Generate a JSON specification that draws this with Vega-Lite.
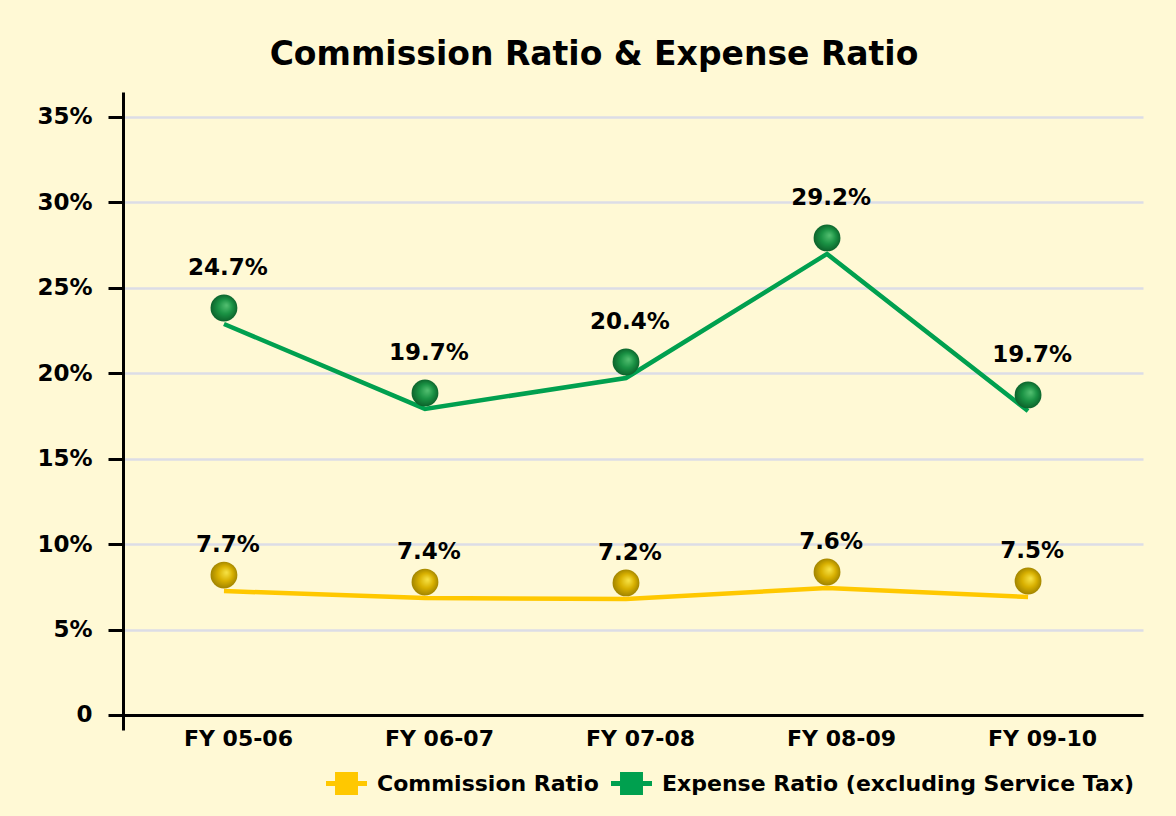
{
  "$schema": "https://vega.github.io/schema/vega-lite/v6.json",
  "width": 1020,
  "height": 638,
  "autosize": {"type": "none"},
  "padding": {"left": 123, "top": 92, "right": 33, "bottom": 86},
  "background": "#FFF9D5",
  "config": {"view": {"stroke": null}},
  "title": {"text": "Commission Ratio & Expense Ratio", "font": "DejaVu Sans", "fontSize": 33, "fontWeight": "bold", "color": "#000000", "anchor": "middle", "dx": -39, "offset": 20},
  "data": {"values": [
    {"year": "FY 05-06", "series": "Commission Ratio", "value": 8.19, "label": "7.7%"},
    {"year": "FY 06-07", "series": "Commission Ratio", "value": 7.78, "label": "7.4%"},
    {"year": "FY 07-08", "series": "Commission Ratio", "value": 7.73, "label": "7.2%"},
    {"year": "FY 08-09", "series": "Commission Ratio", "value": 8.37, "label": "7.6%"},
    {"year": "FY 09-10", "series": "Commission Ratio", "value": 7.84, "label": "7.5%"},
    {"year": "FY 05-06", "series": "Expense Ratio (excluding Service Tax)", "value": 23.82, "label": "24.7%"},
    {"year": "FY 06-07", "series": "Expense Ratio (excluding Service Tax)", "value": 18.85, "label": "19.7%"},
    {"year": "FY 07-08", "series": "Expense Ratio (excluding Service Tax)", "value": 20.66, "label": "20.4%"},
    {"year": "FY 08-09", "series": "Expense Ratio (excluding Service Tax)", "value": 27.92, "label": "29.2%"},
    {"year": "FY 09-10", "series": "Expense Ratio (excluding Service Tax)", "value": 18.73, "label": "19.7%"}
  ]},
  "encoding": {
    "x": {"field": "year", "type": "nominal", "sort": null,
      "scale": {"type": "point", "padding": 0.537},
      "axis": {"title": null, "domain": false, "ticks": false, "grid": false, "labelAngle": 0, "labelFont": "DejaVu Sans", "labelFontSize": 22, "labelFontWeight": "bold", "labelColor": "#000000", "labelPadding": -2, "labelOffset": 7}},
    "y": {"field": "value", "type": "quantitative",
      "scale": {"domain": [-0.878, 36.46], "nice": false, "zero": false},
      "axis": {"title": null, "values": [0, 5, 10, 15, 20, 25, 30, 35],
        "labelExpr": "datum.value === 0 ? '0' : datum.value + '%'",
        "domainColor": "#000000", "domainWidth": 3, "tickColor": "#000000", "tickWidth": 3, "tickSize": 15, "labelPadding": 16,
        "labelFont": "DejaVu Sans", "labelFontSize": 23, "labelFontWeight": "bold", "labelColor": "#000000", "labelBaseline": "middle",
        "grid": true,
        "gridColor": {"condition": {"test": "datum.value === 0", "value": "#000000"}, "value": "#DCDDE6"},
        "gridWidth": {"condition": {"test": "datum.value === 0", "value": 3}, "value": 2.5}}}
  },
  "layer": [
    {
      "mark": {"type": "line", "strokeWidth": 4.5, "yOffset": 16, "xOffset": -7},
      "encoding": {
        "color": {"field": "series", "type": "nominal",
          "scale": {"domain": ["Commission Ratio", "Expense Ratio (excluding Service Tax)"], "range": ["#FFC800", "#00A04F"]},
          "legend": {"title": null, "orient": "none", "legendX": 203, "legendY": 671, "direction": "horizontal",
            "symbolType": "M-1,-0.12H1V0.12H-1Z M-0.56,-0.56H0.56V0.56H-0.56Z", "symbolSize": 1681, "symbolStrokeWidth": 0,
            "labelFont": "DejaVu Sans", "labelFontSize": 22, "labelFontWeight": "bold", "labelColor": "#000000",
            "labelOffset": 10, "columnPadding": 12, "padding": 0, "labelLimit": 600,
            "encode": {"symbols": {"update": {"fill": {"scale": "color", "field": "value"}, "stroke": {"value": "transparent"}, "opacity": {"value": 1}}}}}}
      }
    },
    {
      "transform": [{"filter": "datum.series === 'Expense Ratio (excluding Service Tax)'"}],
      "mark": {"type": "point", "shape": "circle", "filled": true, "size": 720, "opacity": 1, "strokeWidth": 0, "xOffset": -7,
        "fill": {"gradient": "radial", "x1": 0.6, "y1": 0.4, "r1": 0, "x2": 0.5, "y2": 0.5, "r2": 0.55,
          "stops": [{"offset": 0, "color": "#55C072"}, {"offset": 0.5, "color": "#1A9244"}, {"offset": 1, "color": "#0A5A27"}]}}
    },
    {
      "transform": [{"filter": "datum.series === 'Commission Ratio'"}],
      "mark": {"type": "point", "shape": "circle", "filled": true, "size": 720, "opacity": 1, "strokeWidth": 0, "xOffset": -7,
        "fill": {"gradient": "radial", "x1": 0.6, "y1": 0.4, "r1": 0, "x2": 0.5, "y2": 0.5, "r2": 0.55,
          "stops": [{"offset": 0, "color": "#F8E448"}, {"offset": 0.5, "color": "#D8B000"}, {"offset": 1, "color": "#977C00"}]}}
    },
    {
      "transform": [{"filter": "datum.series === 'Expense Ratio (excluding Service Tax)'"}],
      "mark": {"type": "text", "font": "DejaVu Sans", "fontSize": 23, "fontWeight": "bold", "color": "#000000", "dy": -40, "dx": -3, "baseline": "middle"},
      "encoding": {"text": {"field": "label"}}
    },
    {
      "transform": [{"filter": "datum.series === 'Commission Ratio'"}],
      "mark": {"type": "text", "font": "DejaVu Sans", "fontSize": 23, "fontWeight": "bold", "color": "#000000", "dy": -30, "dx": -3, "baseline": "middle"},
      "encoding": {"text": {"field": "label"}}
    }
  ]
}
